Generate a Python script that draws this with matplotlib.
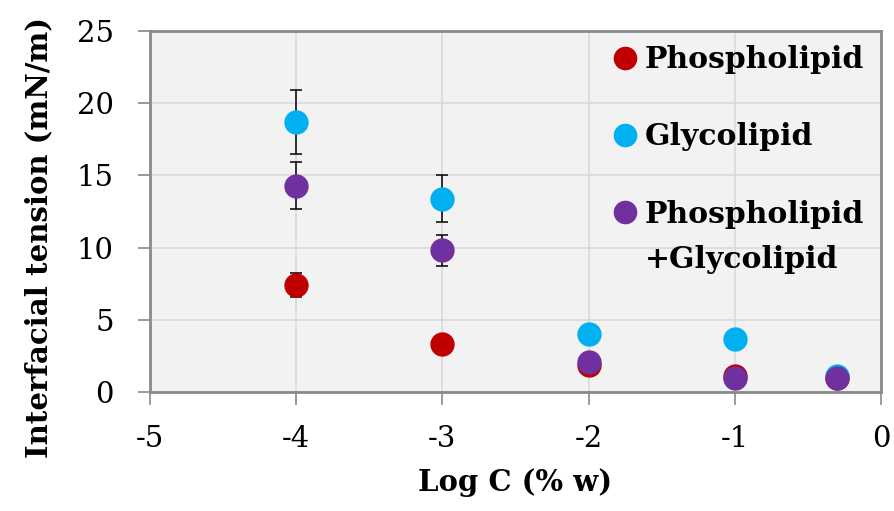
import matplotlib
matplotlib.use("Agg")
import matplotlib.pyplot as plt

plt.rcParams["axes.unicode_minus"] = False

# data
log_c = [-4, -3, -2, -1, -0.3]

phospho = [7.4, 3.35, 1.9, 1.1, 1.0]
phospho_err = [0.85, 0, 0, 0, 0]

glyco = [18.7, 13.4, 4.0, 3.7, 1.1]
glyco_err = [2.2, 1.6, 0, 0, 0]

mix = [14.3, 9.8, 2.05, 1.0, 1.0]
mix_err = [1.6, 1.1, 0, 0, 0]

labels = ["Phospholipid", "Glycolipid", "Phospholipid\n+Glycolipid"]
colors = ["#c00000", "#00b0f0", "#7030a0"]

xticks = [-5, -4, -3, -2, -1, 0]
yticks = [0, 5, 10, 15, 20, 25]

serif = "DejaVu Serif"

fig = plt.figure(figsize=(8.94, 5.11), dpi=100)
ax = fig.add_axes([150/894, 1-392/511, 731/894, 361/511])
ax.set_facecolor("#f2f2f2")

series = [(phospho, phospho_err), (glyco, glyco_err), (mix, mix_err)]
for (vals, errs), c in zip(series, colors):
    ax.errorbar(log_c, vals, yerr=errs, fmt="o", color=c, ms=16.5,
                mec=c, ecolor="black", elinewidth=1.1, capsize=4.5,
                capthick=1.1, zorder=3)

ax.set_xlim(-5, 0)
ax.set_ylim(0, 25)
ax.set_xticks(xticks)
ax.set_yticks(yticks)
ax.grid(True, color="#d9d9d9", lw=1.2)
ax.set_axisbelow(True)

for s in ax.spines.values():
    s.set_color("#898989")
    s.set_linewidth(2)

ax.tick_params(axis="both", length=9, width=1.2, color="#898989")
ax.tick_params(axis="y", pad=17)
ax.tick_params(axis="x", pad=15)
for t in ax.get_yticklabels() + ax.get_xticklabels():
    t.set_fontfamily(serif)
    t.set_fontsize(21)

ax.set_xlabel("Log C (% w)", fontfamily=serif, fontweight="bold", fontsize=21)
ax.set_ylabel("Interfacial tension (mN/m)", fontfamily=serif,
              fontweight="bold", fontsize=21)
ax.xaxis.set_label_coords((515-150)/731, -(468-392)/361)
ax.yaxis.set_label_coords(-(150-53)/731, (392-237)/361)

# legend drawn by hand so the marker sits on the first line
leg_y = [0.92, 0.707, 0.43]
mark_y = [0.925, 0.712, 0.499]
for lab, c, ty, my in zip(labels, colors, leg_y, mark_y):
    ax.plot([0.650], [my], "o", color=c, ms=16, transform=ax.transAxes,
            clip_on=False, zorder=5)
    ax.text(0.677, ty, lab, transform=ax.transAxes, va="center", ha="left",
            fontfamily=serif, fontweight="bold", fontsize=21.5,
            linespacing=1.7, zorder=5)

fig.savefig("out.png", dpi=100)
